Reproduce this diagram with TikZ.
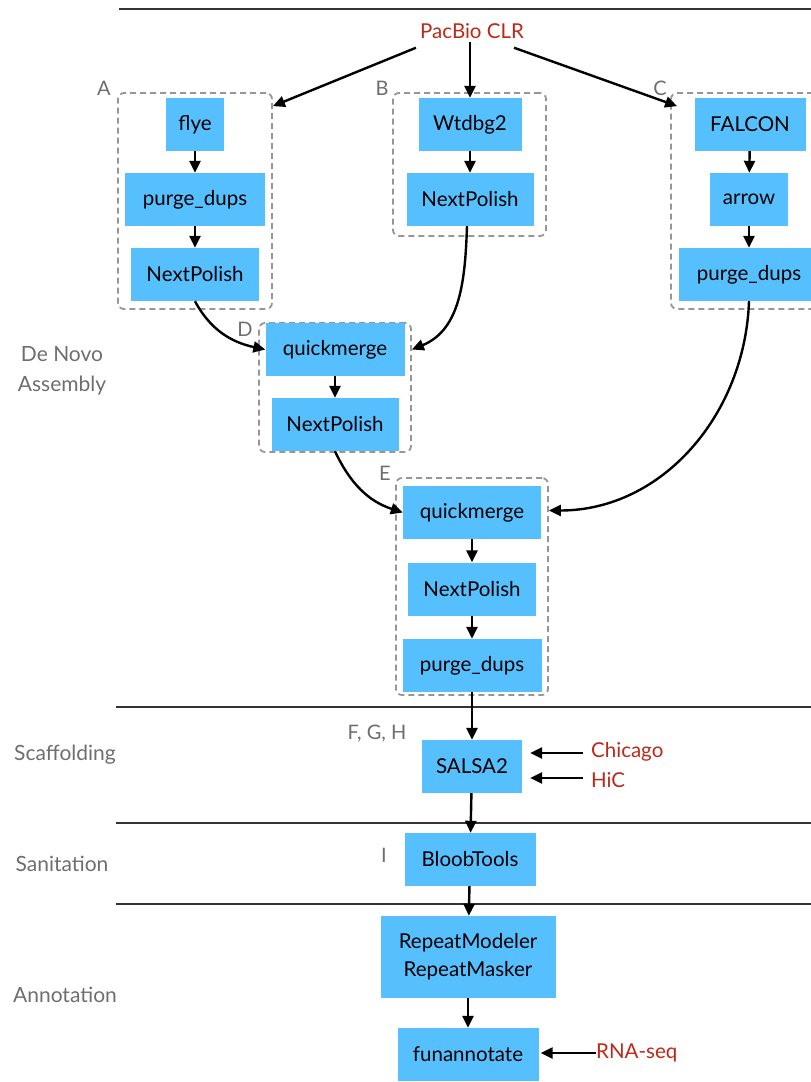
\documentclass[tikz,border=0pt]{standalone}
\usepackage{fontspec}
\setmainfont{Lato}
\usetikzlibrary{arrows.meta,calc}
\definecolor{boxblue}{RGB}{86,192,255}
\definecolor{inred}{RGB}{190,40,25}
\definecolor{lblgray}{RGB}{110,110,110}
\definecolor{dashgray}{RGB}{150,150,150}
\begin{document}
\begin{tikzpicture}[x=1pt,y=-1pt,
  tool/.style={fill=boxblue,draw=none,minimum height=53pt,inner sep=0pt,align=center,font=\fontsize{20.5}{28}\selectfont,text=black},
  dbox/.style={draw=dashgray,dashed,dash pattern=on 6pt off 4pt,line width=1.8pt,rounded corners=6pt,inner sep=0pt},
  inp/.style={text=inred,font=\fontsize{20.5}{25}\selectfont,inner sep=0pt},
  lbl/.style={text=lblgray,font=\fontsize{20}{24}\selectfont,inner sep=0pt},
  sect/.style={text=lblgray,font=\fontsize{21}{30}\selectfont,inner sep=0pt,align=center},
  arr/.style={-{Triangle[length=12pt,width=11pt]},line width=2.4pt,black},
  sep/.style={line width=1.2pt,draw=black!80}]
\useasboundingbox (0,0) rectangle (811,1082);
\clip (0,0) rectangle (811,1082);
% section separators
\draw[sep] (119,9) -- (811,9);
\draw[sep] (116,707) -- (811,707);
\draw[sep] (116,823) -- (811,823);
\draw[sep] (116,904) -- (811,904);
% section labels
\node[sect] (sDN) at (62,371) {De Novo\\Assembly};
\node[sect] (sSc) at (65,755) {Scaffolding};
\node[sect] (sSa) at (62,864) {Sanitation};
\node[sect] (sAn) at (65,995) {Annotation};
% dashed groups
\node[dbox,minimum width=154pt,minimum height=216pt] (Abox) at (195,201) {};
\node[dbox,minimum width=153pt,minimum height=143pt] (Bbox) at (469.5,164.5) {};
\node[dbox,minimum width=158pt,minimum height=216pt] (Cbox) at (750,201) {};
\node[dbox,minimum width=152pt,minimum height=129pt] (Dbox) at (335,387.5) {};
\node[dbox,minimum width=152pt,minimum height=217pt] (Ebox) at (472,586.5) {};
% group letters
\node[lbl] (lA) at (104,88) {A};
\node[lbl] (lB) at (382,88) {B};
\node[lbl] (lC) at (660,88) {C};
\node[lbl] (lD) at (245,329) {D};
\node[lbl] (lE) at (385,473) {E};
\node[lbl] (lF) at (377,734) {F, G, H};
\node[lbl] (lI) at (384,855) {I};
% input
\node[inp] (pac) at (472,31) {PacBio CLR};
% A
\node[tool,minimum width=58pt] (flye) at (195,124.5) {flye};
\node[tool,minimum width=140pt] (pdA) at (195,199.5) {purge\_dups};
\node[tool,minimum width=128pt] (npA) at (195,274.5) {NextPolish};
% B
\node[tool,minimum width=103pt] (wt) at (470,124.5) {Wtdbg2};
\node[tool,minimum width=127pt] (npB) at (470,199.5) {NextPolish};
% C
\node[tool,minimum width=111pt] (fal) at (750,124.5) {FALCON};
\node[tool,minimum width=78pt] (arw) at (749,199.5) {arrow};
\node[tool,minimum width=140pt] (pdC) at (749,274.5) {purge\_dups};
% D
\node[tool,minimum width=139pt] (qmD) at (335,349.5) {quickmerge};
\node[tool,minimum width=127pt] (npD) at (335,424.5) {NextPolish};
% E
\node[tool,minimum width=138pt] (qmE) at (472,512.5) {quickmerge};
\node[tool,minimum width=128pt] (npE) at (472,589) {NextPolish};
\node[tool,minimum width=139pt] (pdE) at (472,665.5) {purge\_dups};
% later stages
\node[tool,minimum width=100pt] (salsa) at (472,766.5) {SALSA2};
\node[tool,minimum width=131pt] (blob) at (470,859.5) {BloobTools};
\node[tool,minimum width=175pt,minimum height=82pt] (rep) at (468,957) {RepeatModeler\\RepeatMasker};
\node[tool,minimum width=141pt] (fun) at (468,1054.5) {funannotate};
\node[inp,anchor=west] (chi) at (591,752) {Chicago};
\node[inp,anchor=west] (hic) at (591,780) {HiC};
\node[inp,anchor=west] (rna) at (596,1053) {RNA-seq};
% connectors from PacBio
\coordinate (aTip) at ($(Abox.north east)+(0,14)$);
\coordinate (cTip) at ($(Cbox.north west)+(7,14)$);
\draw[arr] ($(pac.south west)+(-4,9)$) -- (aTip);
\draw[arr] (pac.south -| wt.north) ++(0,3) -- (wt.north);
\draw[arr] ($(pac.south east)+(-10,9)$) -- (cTip);
% within groups
\draw[arr] (flye) -- (pdA);
\draw[arr] (pdA) -- (npA);
\draw[arr] (wt) -- (npB);
\draw[arr] (fal) -- (arw);
\draw[arr] (arw) -- (pdC);
\draw[arr] (qmD) -- (npD);
\draw[arr] (qmE) -- (npE);
\draw[arr] (npE) -- (pdE);
% curved merges
\draw[arr] (npA.south) to[out=-62,in=168] (qmD.west);
\draw[arr] ($(npB.south)+(-3,0)$) to[out=-92,in=22] (qmD.east -| Dbox.east);
\draw[arr] (npD.south) to[out=-65,in=162] (qmE.west);
\draw[arr] (pdC.south) to[out=-92,in=0] ($(qmE.east -| Ebox.east)+(0,-2)$);
% main line
\draw[arr] (pdE) -- (salsa);
\draw[arr] (salsa) -- (blob);
\draw[arr] (blob) -- (rep);
\draw[arr] (rep) -- (fun);
\draw[arr,shorten >=8pt] ($(chi.west)+(-8,1)$) -- ($(chi.west -| salsa.east)+(0,1)$);
\draw[arr,shorten >=8pt] ($(hic.west)+(-8,-2)$) -- ($(hic.west -| salsa.east)+(0,-2)$);
\draw[arr,shorten >=2pt] (rna.west) -- (rna.west -| fun.east);
\end{tikzpicture}
\end{document}
